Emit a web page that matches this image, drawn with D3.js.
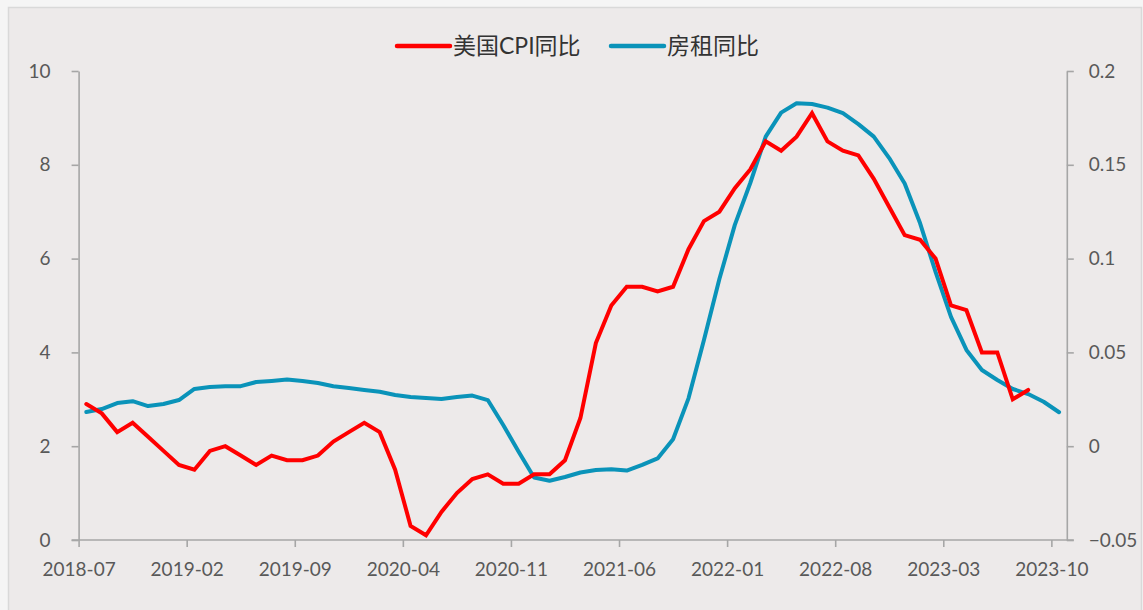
<!DOCTYPE html>
<html><head><meta charset="utf-8">
<script src="https://cdn.jsdelivr.net/npm/d3@7"></script>
<style>
html,body{margin:0;padding:0;background:#f5f5f5;}
svg{display:block;}
</style></head>
<body>
<svg id="chart" width="1143" height="610"></svg>
<script>
// ---- data ----
const startMonth = "2018-07";
const monthCount = 64; // 2018-07 .. 2023-10
const tickLabels = ["2018-07","2019-02","2019-09","2020-04","2020-11","2021-06","2022-01","2022-08","2023-03","2023-10"];
const leftTicks = [0,2,4,6,8,10];
const rightTicks = [-0.05,0,0.05,0.1,0.15,0.2];
const seriesNames = ["美国CPI同比","房租同比"];
const cpiYoY = [2.9,2.7,2.3,2.5,2.2,1.9,1.6,1.5,1.9,2.0,1.8,1.6,1.8,1.7,1.7,1.8,2.1,2.3,2.5,2.3,1.5,0.3,0.1,0.6,1.0,1.3,1.4,1.2,1.2,1.4,1.4,1.7,2.6,4.2,5.0,5.4,5.4,5.3,5.4,6.2,6.8,7.0,7.5,7.9,8.5,8.3,8.6,9.1,8.5,8.3,8.2,7.7,7.1,6.5,6.4,6.0,5.0,4.9,4.0,4.0,3.0,3.2];
const rentYoY = [0.0182,0.0198,0.0230,0.0240,0.0214,0.0225,0.0246,0.0305,0.0316,0.0320,0.0320,0.0342,0.0348,0.0355,0.0348,0.0337,0.0320,0.0310,0.0300,0.0290,0.0273,0.0262,0.0257,0.0252,0.0262,0.0270,0.0246,0.0113,-0.0030,-0.0167,-0.0184,-0.0164,-0.0140,-0.0127,-0.0123,-0.0130,-0.0100,-0.0065,0.0037,0.0255,0.0566,0.0891,0.1180,0.1403,0.1650,0.1778,0.1828,0.1824,0.1805,0.1775,0.1717,0.1650,0.1536,0.1400,0.1188,0.0929,0.0689,0.0513,0.0406,0.0353,0.0305,0.0278,0.0237,0.0181];
const colors = ["#ff0000","#0a93b9"];

// ---- layout ----
const svg = d3.select("#chart");
const W = 1143, H = 610;
const L = 78.6, R = 1066.8, T = 71, B = 540;

const parse = d3.timeParse("%Y-%m");
const fmt = d3.timeFormat("%Y-%m");
const months = d3.timeMonth.range(parse(startMonth), d3.timeMonth.offset(parse(startMonth), monthCount)).map(fmt);

svg.append("rect").attr("x",0).attr("y",0).attr("width",W).attr("height",H).attr("fill","#f5f5f5");
svg.append("rect").attr("x",8.5).attr("y",7.5).attr("width",1133).attr("height",620)
  .attr("fill","#edeaea").attr("stroke","#d9d9d9").attr("stroke-width",1.5);

const x = d3.scaleLinear().domain([0, monthCount]).range([L, R]);
const yL = d3.scaleLinear().domain([0,10]).range([B,T]);
const yR = d3.scaleLinear().domain([-0.05,0.2]).range([B,T]);

const tickFont = "Lato, 'Liberation Sans', sans-serif";
function styleAxis(g){
  g.selectAll(".domain").attr("stroke","#a6a6a6").attr("stroke-width",1.6);
  g.selectAll(".tick line").attr("stroke","#a6a6a6").attr("stroke-width",1.6);
  g.selectAll(".tick text").attr("fill","#595959").style("font-family",tickFont).style("font-size","19px");
}

// left axis
const gL = svg.append("g").attr("transform",`translate(${L},0)`)
  .call(d3.axisLeft(yL).tickValues(leftTicks).tickSize(7).tickSizeOuter(0).tickPadding(21).tickFormat(d3.format("d")));
styleAxis(gL);

// right axis
const gR = svg.append("g").attr("transform",`translate(${R},0)`)
  .call(d3.axisRight(yR).tickValues(rightTicks).tickSize(7).tickSizeOuter(0).tickPadding(15).tickFormat(d=>d3.format("")(+d.toFixed(2))));
styleAxis(gR);

// bottom axis
const tickIdx = tickLabels.map(t => months.indexOf(t));
const gB = svg.append("g").attr("transform",`translate(0,${B})`)
  .call(d3.axisBottom(x).tickValues(tickIdx).tickSize(7).tickSizeOuter(0).tickPadding(16).tickFormat(i => months[i]));
styleAxis(gB);
gB.select(".domain").attr("d", `M${L-7},0H${R+7}`);

// lines
const lineL = d3.line().x((d,i)=>x(i+0.5)).y(d=>yL(d));
const lineR = d3.line().x((d,i)=>x(i+0.5)).y(d=>yR(d));
svg.append("path").datum(rentYoY).attr("d",lineR).attr("fill","none")
  .attr("stroke",colors[1]).attr("stroke-width",4).attr("stroke-linejoin","round").attr("stroke-linecap","round");
svg.append("path").datum(cpiYoY).attr("d",lineL).attr("fill","none")
  .attr("stroke",colors[0]).attr("stroke-width",4).attr("stroke-linejoin","miter").attr("stroke-linecap","round");

// legend
const legend = svg.append("g");
const legendItems = [{x:397, name:seriesNames[0], c:colors[0]},{x:611, name:seriesNames[1], c:colors[1]}];
legendItems.forEach(it=>{
  legend.append("line").attr("x1",it.x).attr("x2",it.x+53).attr("y1",46).attr("y2",46)
    .attr("stroke",it.c).attr("stroke-width",4.5).attr("stroke-linecap","round");
  legend.append("text").attr("x",it.x+56).attr("y",46).attr("dy","0.35em")
    .attr("fill","#333").style("font-family","Lato, 'Noto Sans CJK SC', sans-serif").style("font-size","23px")
    .text(it.name);
});
</script>
</body></html>
